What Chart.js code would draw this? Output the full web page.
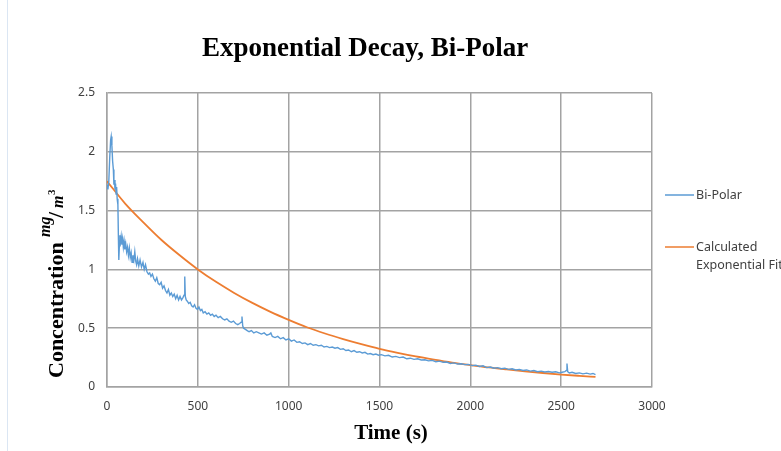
<!DOCTYPE html>
<html>
<head>
<meta charset="utf-8">
<script src="https://cdn.jsdelivr.net/npm/chart.js@4/dist/chart.umd.min.js"></script>
<style>
  html, body { margin: 0; padding: 0; background: #fff; }
  #wrap { position: relative; width: 781px; height: 451px; overflow: hidden; }
  #edge { position: absolute; left: 7px; top: 0; width: 1px; height: 451px; background: #dbe6f3; }
</style>
</head>
<body>
<div id="wrap">
  <canvas id="decayChart" width="781" height="451"></canvas>
  <div id="edge"></div>
</div>
<script>
var bipolarTime = [0,5,10,15,20,23,27,31,35,38,41,44,47,50,53,56,60,63,65,68,71,75,78,82,86,90,94,98,103,108,113,118,123,128,133,138,143,148,153,158,163,168,175,182,190,198,205,212,220,228,235,242,250,258,266,274,282,290,298,306,314,322,330,338,346,354,362,370,378,386,394,402,410,418,424,428,431,436,442,450,458,466,474,482,490,498,506,514,522,530,540,550,560,570,580,590,600,612,624,636,648,660,672,684,696,708,720,730,738,743,747,752,762,772,782,795,808,822,836,850,865,880,895,902,910,925,940,955,970,985,1000,1015,1030,1045,1060,1075,1090,1105,1120,1135,1150,1165,1180,1195,1210,1225,1240,1255,1270,1285,1300,1315,1330,1345,1360,1375,1390,1405,1420,1435,1450,1465,1480,1495,1510,1530,1550,1570,1590,1610,1630,1650,1670,1690,1710,1730,1750,1770,1790,1810,1830,1850,1870,1890,1910,1930,1950,1970,1990,2010,2030,2050,2070,2090,2110,2130,2150,2170,2190,2210,2230,2250,2270,2290,2310,2330,2350,2370,2390,2410,2430,2450,2470,2490,2505,2520,2528,2532,2536,2545,2560,2580,2600,2620,2640,2660,2675,2689];
var bipolarConc = [1.72,1.68,1.75,1.95,2.10,2.13,2.05,1.92,1.85,1.72,1.76,1.68,1.73,1.64,1.70,1.60,1.55,1.25,1.08,1.20,1.29,1.24,1.28,1.21,1.26,1.19,1.24,1.17,1.22,1.15,1.19,1.12,1.18,1.10,1.14,1.06,1.12,1.08,1.15,1.07,1.04,1.09,1.03,1.08,1.02,1.06,1.00,1.04,0.98,0.96,0.97,0.94,0.96,0.92,0.90,0.93,0.88,0.87,0.89,0.84,0.86,0.82,0.80,0.83,0.78,0.80,0.77,0.79,0.75,0.78,0.74,0.77,0.74,0.76,0.78,0.94,0.77,0.74,0.73,0.71,0.72,0.69,0.68,0.70,0.67,0.66,0.68,0.65,0.66,0.63,0.64,0.62,0.63,0.61,0.62,0.60,0.61,0.59,0.60,0.58,0.57,0.58,0.56,0.55,0.56,0.54,0.53,0.54,0.55,0.60,0.52,0.50,0.49,0.48,0.47,0.48,0.46,0.47,0.46,0.45,0.46,0.44,0.45,0.46,0.43,0.42,0.43,0.41,0.42,0.40,0.41,0.39,0.40,0.38,0.385,0.37,0.375,0.36,0.37,0.355,0.36,0.35,0.355,0.34,0.345,0.335,0.34,0.33,0.335,0.32,0.325,0.31,0.315,0.30,0.31,0.295,0.30,0.29,0.295,0.28,0.285,0.275,0.28,0.27,0.275,0.265,0.27,0.255,0.26,0.25,0.255,0.24,0.245,0.235,0.24,0.23,0.232,0.222,0.226,0.215,0.22,0.21,0.212,0.20,0.205,0.195,0.198,0.19,0.192,0.182,0.186,0.175,0.18,0.165,0.17,0.16,0.165,0.155,0.16,0.15,0.155,0.145,0.15,0.14,0.145,0.135,0.14,0.13,0.135,0.128,0.132,0.125,0.13,0.12,0.125,0.13,0.14,0.20,0.13,0.12,0.125,0.115,0.12,0.112,0.118,0.11,0.115,0.105];

// calculated exponential fit
var fitTime = [0,100,200,300,400,500,600,700,800,900,1000,1100,1200,1300,1400,1500,1600,1700,1800,1900,2000,2100,2200,2300,2400,2500,2600,2689];
var fitConc = [1.75,1.56,1.40,1.25,1.12,1.00,0.894,0.80,0.715,0.639,0.571,0.508,0.455,0.408,0.365,0.325,0.291,0.260,0.233,0.208,0.186,0.166,0.149,0.133,0.119,0.106,0.095,0.086];

var seriesNames = ['Bi-Polar', 'Calculated Exponential Fit'];
var legendLines = [['Bi-Polar'], ['Calculated', 'Exponential Fit']];
var seriesColors = ['#5b9bd5', '#ed7d31'];
var chartTitle = 'Exponential Decay, Bi-Polar';
var xTitle = 'Time (s)';

function toPoints(xs, ys) {
  return xs.map((x, i) => ({x: x, y: ys[i]}));
}

var gridGray = '#a3a3a3';

// title, axis titles (with the mg/m3 fraction) and the right side legend
var decorations = {
  id: 'decorations',
  afterDraw(chart) {
    var c = chart.ctx;
    c.save();
    c.fillStyle = '#000';
    c.textBaseline = 'alphabetic';
    c.textAlign = 'center';
    c.font = 'bold 27px "Liberation Serif"';
    c.fillText(chartTitle, 365, 56);
    c.font = 'bold 21px "Liberation Serif"';
    c.fillText(xTitle, 391, 439);

    c.save();
    c.translate(63, 378);
    c.rotate(-Math.PI / 2);
    c.textAlign = 'left';
    c.font = 'bold 22px "Liberation Serif"';
    c.fillText('Concentration', 0, 0);
    c.font = 'bold italic 16px "Liberation Serif"';
    c.fillText('mg', 141, -13);
    c.font = 'bold 22px "Liberation Serif"';
    c.fillText('/', 160, 0);
    c.font = 'bold italic 16px "Liberation Serif"';
    c.fillText('m', 170, 0);
    c.font = 'bold 11px "Liberation Serif"';
    c.fillText('3', 183, -8);
    c.restore();

    var rows = [195, 247];
    c.font = '12.5px "Noto Sans"';
    c.textAlign = 'left';
    c.textBaseline = 'middle';
    rows.forEach((y, i) => {
      c.strokeStyle = seriesColors[i];
      c.lineWidth = 1.5;
      c.beginPath();
      c.moveTo(665, y);
      c.lineTo(694, y);
      c.stroke();
      c.fillStyle = '#404040';
      legendLines[i].forEach((t, j) => {
        c.fillText(t, 696, y + j * 18);
      });
    });
    c.restore();
  }
};

var decayChart = new Chart(document.getElementById('decayChart').getContext('2d'), {
  type: 'line',
  data: {
    datasets: [
      {
        label: seriesNames[0],
        data: toPoints(bipolarTime, bipolarConc),
        borderColor: seriesColors[0],
        borderWidth: 1.4,
        pointRadius: 0,
        tension: 0
      },
      {
        label: seriesNames[1],
        data: toPoints(fitTime, fitConc),
        borderColor: seriesColors[1],
        borderWidth: 1.8,
        pointRadius: 0,
        cubicInterpolationMode: 'monotone'
      }
    ]
  },
  options: {
    responsive: false,
    animation: false,
    layout: {padding: {top: 93, right: 129, left: 0, bottom: 0}},
    plugins: {
      legend: {display: false},
      title: {display: false},
      tooltip: {enabled: false}
    },
    scales: {
      x: {
        type: 'linear',
        min: 0,
        max: 3000,
        ticks: {
          stepSize: 500,
          padding: 12,
          color: '#404040',
          font: {family: 'Noto Sans', size: 12},
          callback: v => String(v)
        },
        grid: {color: gridGray, lineWidth: 1.5, drawTicks: false},
        border: {color: gridGray, width: 1.5},
        afterFit: s => { s.height = 64; }
      },
      y: {
        min: 0,
        max: 2.5,
        ticks: {
          stepSize: 0.5,
          padding: 12,
          color: '#404040',
          font: {family: 'Noto Sans', size: 12},
          callback: v => String(v)
        },
        grid: {color: gridGray, lineWidth: 1.5, drawTicks: false},
        border: {color: gridGray, width: 1.5},
        afterFit: s => { s.width = 107; }
      }
    }
  },
  plugins: [decorations]
});
</script>
</body>
</html>
